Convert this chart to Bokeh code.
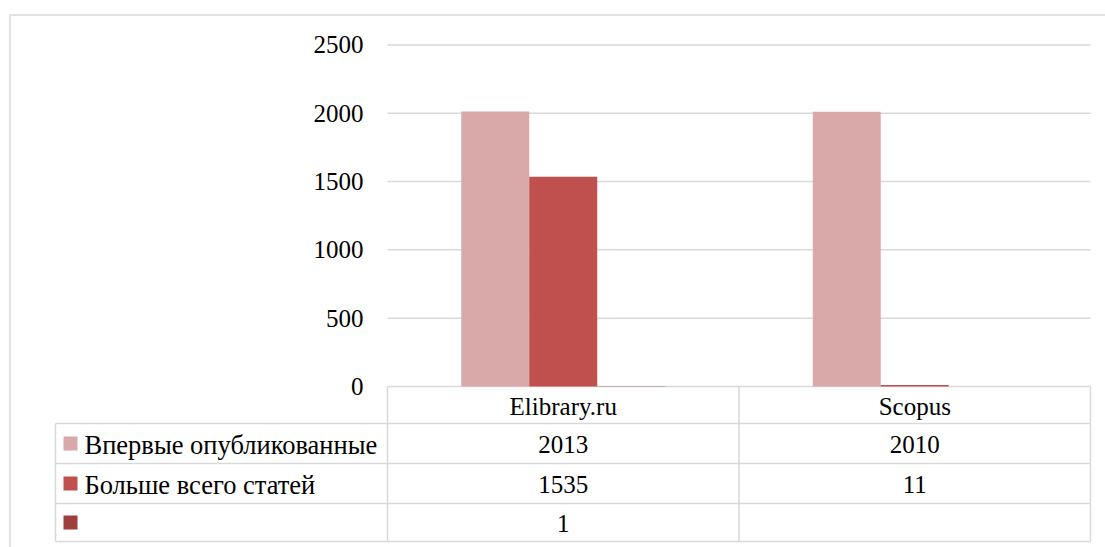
from bokeh.plotting import figure
from bokeh.models import Range1d
from bokeh.core.properties import value
from bokeh.embed import file_html
from bokeh.resources import INLINE

# ---- data ----
categories = ["Elibrary.ru", "Scopus"]
series_names = ["Впервые опубликованные", "Больше всего статей", ""]
series_first = [2013, 2010]
series_most = [1535, 11]
series_third = [1, None]
series_colors = ["#D9A9A9", "#C0504D", "#9E3F3D"]
y_ticks = [0, 500, 1000, 1500, 2000, 2500]
y_max = 2500

# ---- layout (page pixels) ----
W, H = 1105, 547
OFF = 0
PLOT_L, PLOT_R = 387, 1090
PLOT_T, PLOT_B = 44.4, 386
TABLE_L = 55
ROW_LINES = [423, 463, 503, 541]
FONT = value("'Liberation Serif', 'Times New Roman', serif")
FS = "25px"
FS_LEG = "26.5px"
LINE = "#D9D9D9"

unit_px = (PLOT_R - PLOT_L) / len(categories)
val_per_px = y_max / (PLOT_B - PLOT_T)


def X(px):
    return (px - PLOT_L) / unit_px


def Y(py):
    return (PLOT_B - py) * val_per_px


p = figure(width=W, height=H, output_backend="svg", toolbar_location=None,
           x_axis_location=None, y_axis_location=None, min_border=0,
           x_range=Range1d(X(OFF), X(OFF + W)), y_range=Range1d(Y(OFF + H), Y(OFF)),
           outline_line_color=None, background_fill_color="white",
           border_fill_color="white")
p.grid.visible = False

# outer border
p.quad(left=[X(9.5)], right=[X(1130)], top=[Y(14.5)], bottom=[Y(580)],
       fill_color=None, line_color=LINE, line_width=1.5)

# gridlines
p.segment(x0=[0] * len(y_ticks), x1=[len(categories)] * len(y_ticks),
          y0=y_ticks, y1=y_ticks, line_color=LINE, line_width=1.5)

# y tick labels
p.text(x=[X(363)] * len(y_ticks), y=y_ticks, text=[str(t) for t in y_ticks],
       text_align="right", text_baseline="middle", text_font=FONT,
       text_font_size=FS, text_color="#000000")

# bars
bw = 68 / unit_px
centers = [i + 0.5 for i in range(len(categories))]
for k, (vals, col) in enumerate(zip([series_first, series_most, series_third], series_colors)):
    xs, tops = [], []
    for c, v in zip(centers, vals):
        if v is None:
            continue
        xs.append(c + (k - 1) * bw)
        tops.append(v)
    p.vbar(x=xs, top=tops, bottom=0, width=bw, fill_color=col, line_color=None)

# table lines
y0 = Y(PLOT_B)
for ry in ROW_LINES:
    p.segment(x0=[X(TABLE_L)], x1=[len(categories)], y0=[Y(ry)], y1=[Y(ry)],
              line_color=LINE, line_width=1.5)
vx = list(range(len(categories) + 1))
p.segment(x0=vx, x1=vx, y0=[y0] * len(vx), y1=[Y(ROW_LINES[-1])] * len(vx),
          line_color=LINE, line_width=1.5)
p.segment(x0=[X(TABLE_L)], x1=[X(TABLE_L)], y0=[Y(ROW_LINES[0])], y1=[Y(ROW_LINES[-1])],
          line_color=LINE, line_width=1.5)

# header row: categories
p.text(x=centers, y=[Y((PLOT_B + ROW_LINES[0]) / 2 + 1)] * len(categories), text=categories,
       text_align="center", text_baseline="middle", text_font=FONT,
       text_font_size=FS, text_color="#000000")

# data rows
row_vals = [series_first, series_most, series_third]
for r in range(3):
    cy = Y((ROW_LINES[r] + ROW_LINES[r + 1]) / 2 + 1)
    txt = ["" if v is None else str(v) for v in row_vals[r]]
    p.text(x=centers, y=[cy] * len(centers), text=txt, text_align="center",
           text_baseline="middle", text_font=FONT, text_font_size=FS,
           text_color="#000000")
    # legend key
    p.rect(x=[X(70)], y=[Y((ROW_LINES[r] + ROW_LINES[r + 1]) / 2)], width=14, height=14,
           width_units="screen", height_units="screen",
           fill_color=series_colors[r], line_color=None)
    if series_names[r]:
        p.text(x=[X(84)], y=[cy], text=[series_names[r]], text_align="left",
               text_baseline="middle", text_font=FONT, text_font_size=FS_LEG,
               text_color="#000000")

open("out.html", "w").write(file_html(p, INLINE))
